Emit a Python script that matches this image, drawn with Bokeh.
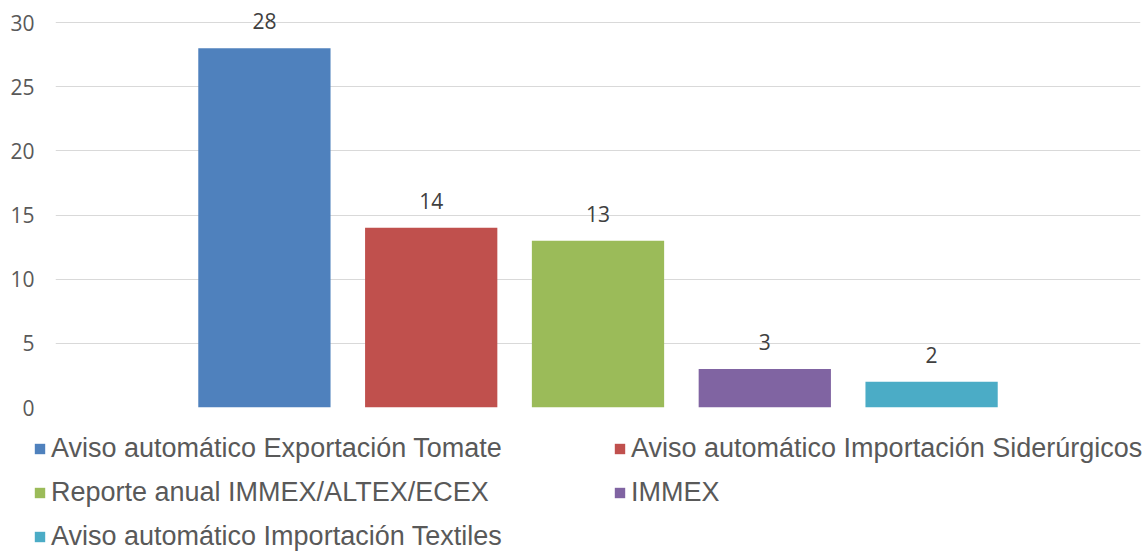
from bokeh.plotting import figure
from bokeh.layouts import column
from bokeh.models import ColumnDataSource, Legend, LegendItem, Range1d, FixedTicker
from bokeh.embed import file_html
from bokeh.resources import INLINE
from bokeh.core.properties import value

categories = [
    "Aviso automático Exportación Tomate",
    "Aviso automático Importación Siderúrgicos",
    "Reporte anual IMMEX/ALTEX/ECEX",
    "IMMEX",
    "Aviso automático Importación Textiles",
]
values = [28, 14, 13, 3, 2]
colors = ["#4F81BD", "#C0504D", "#9BBB59", "#8064A2", "#4BACC6"]
y_ticks = [0, 5, 10, 15, 20, 25, 30]

positions = list(range(len(categories)))
source = ColumnDataSource(dict(
    x=positions,
    val=values,
    label=[str(v) for v in values],
    color=colors,
    cat=categories,
))

# frame spans 407 px; the 0..30 scale occupies the lower 385 px
y_top = 30 * 407 / 385

p = figure(
    width=1146, height=420,
    x_range=Range1d(-1.2525, 5.2525), y_range=Range1d(0, y_top),
    output_backend="svg", toolbar_location=None,
    x_axis_location=None,
    min_border_top=0, min_border_left=55, min_border_right=6, min_border_bottom=13,
)
p.frame_align = False
p.outline_line_color = None
p.xgrid.visible = False
p.ygrid.grid_line_color = "#D9D9D9"
p.ygrid.grid_line_width = 1

ax = p.yaxis[0]
ax.ticker = FixedTicker(ticks=y_ticks)
ax.axis_line_color = None
ax.major_tick_line_color = None
ax.minor_tick_line_color = None
ax.major_label_text_font = "Open Sans"
ax.major_label_text_font_size = "21px"
ax.major_label_text_color = "#595959"
ax.major_label_standoff = 15

bars = p.vbar(x="x", top="val", width=0.793, color="color", line_color=None, source=source)

p.text(x="x", y="val", text="label", source=source, text_align="center",
       text_baseline="bottom", y_offset=-19, text_font=value("Open Sans"),
       text_font_size="21px", text_color="#404040")

# legend panel (its bars lie outside the visible range; only used for legend swatches)
lg = figure(
    width=1146, height=132,
    x_range=Range1d(100, 101), y_range=Range1d(100, 101),
    output_backend="svg", toolbar_location=None,
    x_axis_location=None, y_axis_location=None,
    min_border_top=0, min_border_left=0, min_border_right=0, min_border_bottom=0,
)
lg.frame_align = False
lg.outline_line_color = None
lg.xgrid.visible = False
lg.ygrid.visible = False
lbars = lg.vbar(x="x", top="val", width=0.793, color="color", line_color=None, source=source)

common = dict(
    orientation="vertical",
    label_text_font="Liberation Sans", label_text_font_size="27px",
    label_text_color="#595959", glyph_width=13, glyph_height=13,
    label_standoff=5, label_height=31, spacing=13, margin=0, padding=0,
    border_line_color=None, background_fill_alpha=0,
)
col1 = [0, 2, 4]
col2 = [1, 3]
leg1 = Legend(items=[LegendItem(label=categories[i], renderers=[lbars], index=i) for i in col1],
              location=(33, 0), **common)
leg2 = Legend(items=[LegendItem(label=categories[i], renderers=[lbars], index=i) for i in col2],
              location=(613, 44), **common)
lg.add_layout(leg1, "center")
lg.add_layout(leg2, "center")

layout = column(p, lg, spacing=0)
open("out.html", "w").write(file_html(layout, INLINE))
